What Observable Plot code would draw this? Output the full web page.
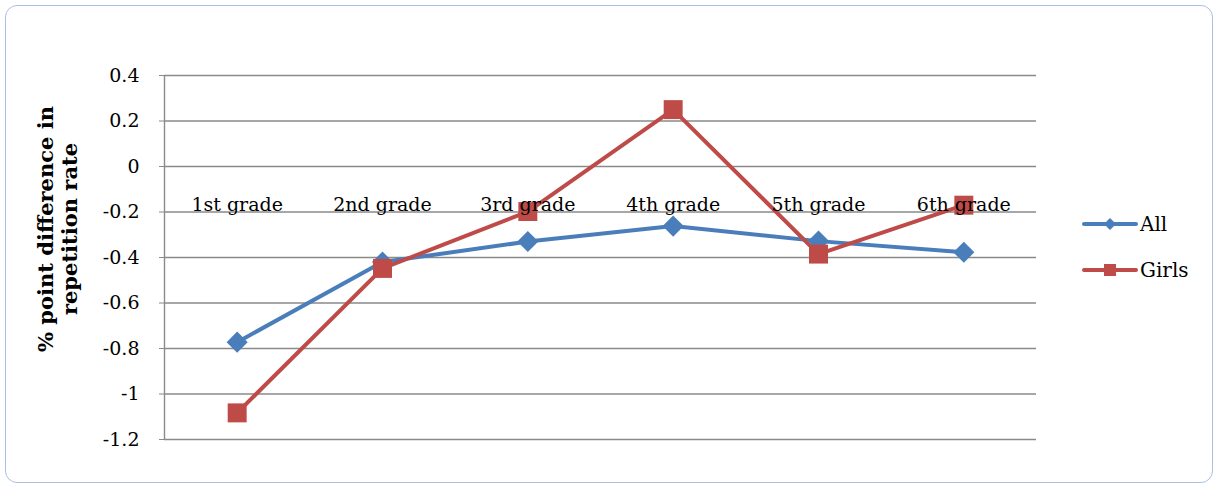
<!DOCTYPE html>
<html>
<head>
<meta charset="utf-8">
<script src="https://cdn.jsdelivr.net/npm/d3@7"></script>
<script src="https://cdn.jsdelivr.net/npm/@observablehq/plot@0.6"></script>
<style>
  html, body { margin: 0; padding: 0; background: #fff; }
  #wrap { position: relative; width: 1219px; height: 488px; }
  #border { position: absolute; left: 5px; top: 5px; width: 1208px; height: 478px;
            border: 1.5px solid #a9c0e4; border-radius: 12px; box-sizing: border-box; pointer-events: none; }
  #chart { position: absolute; left: 0; top: 0; }
  #chart svg text { font-family: "DejaVu Serif"; }
</style>
</head>
<body>
<div id="wrap"><div id="chart"></div><div id="border"></div></div>
<script>
const categories = ["1st grade", "2nd grade", "3rd grade", "4th grade", "5th grade", "6th grade"];
const seriesNames = ["All", "Girls"];
const allValues = [-0.772, -0.42, -0.33, -0.262, -0.328, -0.377];
const girlsValues = [-1.083, -0.448, -0.198, 0.25, -0.385, -0.17];
const yTicks = [0.4, 0.2, 0, -0.2, -0.4, -0.6, -0.8, -1, -1.2];
const yTickLabels = ["0.4", "0.2", "0", "-0.2", "-0.4", "-0.6", "-0.8", "-1", "-1.2"];
const yTitle = ["% point difference in", "repetition rate"];
const colors = ["#4a7ebb", "#be4b48"];

const data = [];
categories.forEach((c, i) => {
  data.push({series: "All", grade: c, i, value: allValues[i]});
  data.push({series: "Girls", grade: c, i, value: girlsValues[i]});
});
const labelOf = new Map(yTicks.map((t, k) => [t, yTickLabels[k]]));

const plot = Plot.plot({
  width: 1219,
  height: 488,
  marginLeft: 164,
  marginRight: 183,
  marginTop: 75,
  marginBottom: 49,
  style: {fontFamily: "DejaVu Serif", background: "transparent"},
  x: {type: "linear", domain: [-0.5, categories.length - 0.5], axis: null},
  y: {domain: [-1.2, 0.4], axis: null},
  color: {domain: seriesNames, range: colors},
  marks: [
    Plot.ruleY(yTicks, {stroke: "#8a8a8a", strokeWidth: 1.4}),
    Plot.ruleX([-0.5], {stroke: "#8a8a8a", strokeWidth: 1.4}),
    Plot.axisY({ticks: yTicks, tickFormat: d => labelOf.get(d), tickSize: 5, tickPadding: 20,
                stroke: "#8a8a8a", fill: "#000", fontSize: 19, fontFamily: "DejaVu Serif", fontVariant: "normal", label: null}),
    Plot.line(data, {x: "i", y: "value", z: "series", stroke: "series", strokeWidth: 4}),
    Plot.dot(data.filter(d => d.series === "All"), {x: "i", y: "value", symbol: "diamond2", r: 9.5, fill: colors[0], stroke: "none"}),
    Plot.dot(data.filter(d => d.series === "Girls"), {x: "i", y: "value", symbol: "square", r: 10.7, fill: colors[1], stroke: "none"}),
    Plot.text(categories, {x: (d, i) => i, y: () => -0.2, text: d => d, lineAnchor: "bottom", dy: -1, fontSize: 19, fill: "#000"})
  ]
});
document.getElementById("chart").appendChild(plot);

// axis title and legend
const svg = d3.select(plot);
const title = svg.append("text")
  .attr("transform", "translate(53,229) rotate(-90)")
  .attr("text-anchor", "middle")
  .attr("font-family", "DejaVu Serif")
  .attr("font-weight", "bold")
  .attr("font-size", 21)
  .attr("fill", "#000");
title.append("tspan").attr("x", 0).attr("dy", 0).text(yTitle[0]);
title.append("tspan").attr("x", 0).attr("dy", 24).text(yTitle[1]);

const legend = svg.append("g").attr("font-family", "DejaVu Serif").attr("font-size", 20).attr("text-anchor", "start");
const sym = [d3.symbol(d3.symbolDiamond2, 92), d3.symbol(d3.symbolSquare, 144)];
seriesNames.forEach((name, k) => {
  const g = legend.append("g").attr("transform", `translate(0,${224 + k * 46})`);
  g.append("line").attr("x1", 1084).attr("x2", 1136).attr("stroke", colors[k]).attr("stroke-width", 4).attr("stroke-linecap", "round");
  g.append("path").attr("d", sym[k]()).attr("transform", "translate(1110,0)").attr("fill", colors[k]);
  g.append("text").attr("x", 1140).attr("dy", "0.35em").attr("text-anchor", "start").attr("fill", "#000").text(name);
});
</script>
</body>
</html>
